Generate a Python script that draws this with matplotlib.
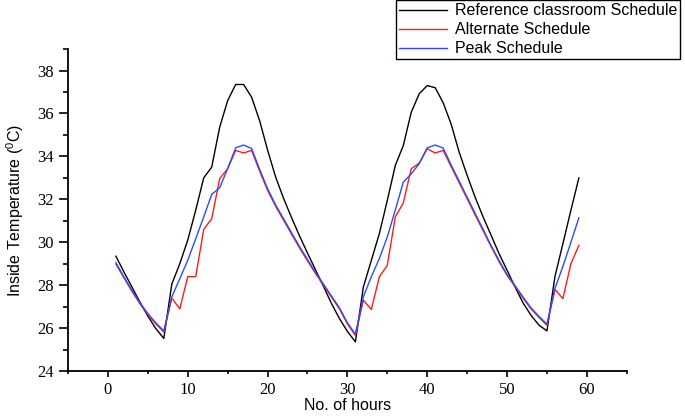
import matplotlib
matplotlib.use('Agg')
import matplotlib.pyplot as plt
from matplotlib.ticker import MultipleLocator

# hours 1..59
hours = list(range(1, 60))

# Reference classroom schedule (black)
reference = [29.35, 28.62, 27.92, 27.22, 26.56, 25.98, 25.52,
             28.05, 29.0, 30.1, 31.5, 33.0, 33.5, 35.36, 36.6, 37.35, 37.35, 36.76,
             35.67, 34.3, 33.05, 32.05, 31.15, 30.3, 29.5, 28.72, 27.95, 27.15, 26.45, 25.85, 25.36,
             27.92, 29.16, 30.4, 31.95, 33.58, 34.5, 36.06, 36.92, 37.3, 37.2, 36.5,
             35.5, 34.2, 33.12, 32.1, 31.18, 30.33, 29.47, 28.7, 27.92, 27.18, 26.6, 26.14, 25.87,
             28.4, 29.94, 31.49, 33.0]

# Alternate schedule (red)
alternate = [28.98, 28.35, 27.72, 27.14, 26.63, 26.2, 25.82,
             27.4, 26.9, 28.4, 28.4, 30.6, 31.1, 32.96, 33.43, 34.28, 34.16, 34.28,
             33.32, 32.42, 31.68, 31.03, 30.38, 29.74, 29.14, 28.55, 28.0, 27.45, 26.9, 26.2, 25.66,
             27.3, 26.87, 28.39, 28.93, 31.18, 31.83, 33.43, 33.69, 34.36, 34.16, 34.28,
             33.52, 32.78, 32.03, 31.28, 30.54, 29.8, 29.1, 28.46, 27.94, 27.4, 26.9, 26.5, 26.13,
             27.8, 27.38, 29.0, 29.86]

# Peak schedule (blue)
peak = [29.05, 28.39, 27.77, 27.18, 26.68, 26.25, 25.87,
        27.46, 28.3, 29.16, 30.17, 31.18, 32.23, 32.54, 33.43, 34.4, 34.53, 34.37,
        33.4, 32.5, 31.75, 31.1, 30.45, 29.8, 29.2, 28.6, 28.05, 27.5, 26.95, 26.25, 25.72,
        27.46, 28.4, 29.24, 30.25, 31.5, 32.8, 33.19, 33.66, 34.4, 34.53, 34.39,
        33.6, 32.85, 32.1, 31.35, 30.6, 29.85, 29.15, 28.5, 27.98, 27.45, 26.95, 26.55, 26.19,
        27.85, 28.88, 30.0, 31.14]

plt.rcParams['mathtext.fontset'] = 'custom'
plt.rcParams['mathtext.rm'] = 'Liberation Sans'
plt.rcParams['mathtext.it'] = 'Liberation Sans'

fig = plt.figure(figsize=(6.85, 4.16), dpi=100)
ax = fig.add_axes([0.0993, 0.108, 0.8157, 0.774])

ax.plot(hours, reference, color='black', linewidth=1.0, label='Reference classroom Schedule')
ax.plot(hours, alternate, color='#ff1a1a', linewidth=1.0, label='Alternate Schedule')
ax.plot(hours, peak, color='#2b4cff', linewidth=1.0, label='Peak Schedule')

ax.set_xlim(-5, 65)
ax.set_ylim(24, 39)
ax.xaxis.set_major_locator(MultipleLocator(10))
ax.xaxis.set_minor_locator(MultipleLocator(5))
ax.yaxis.set_major_locator(MultipleLocator(2))
ax.yaxis.set_minor_locator(MultipleLocator(1))

for side in ['top', 'right']:
    ax.spines[side].set_visible(False)
for side in ['left', 'bottom']:
    ax.spines[side].set_linewidth(1.3)

ax.tick_params(axis='y', which='major', direction='out', length=6.5, width=1.2)
ax.tick_params(axis='y', which='minor', direction='out', length=3.5, width=1.2)
ax.tick_params(axis='x', which='major', direction='out', length=4.5, width=1.2)
ax.tick_params(axis='x', which='minor', direction='out', length=2.5, width=1.2)
for lbl in ax.get_xticklabels() + ax.get_yticklabels():
    lbl.set_fontfamily('Liberation Serif')
    lbl.set_fontsize(12)

ax.set_xlabel('No. of hours', fontfamily='Liberation Sans', fontsize=11.5, labelpad=0)
ax.set_ylabel(r'Inside Temperature ($\mathregular{^0}$C)', fontfamily='Liberation Sans',
              fontsize=11.5, labelpad=8)

leg = fig.legend(loc='upper right', bbox_to_anchor=(0.993, 1.0), fancybox=False,
                 edgecolor='black', framealpha=1, handlelength=3.0, handletextpad=0.5,
                 labelspacing=0.25, borderpad=0.2, borderaxespad=0,
                 prop={'family': 'Liberation Sans', 'size': 11.5})
leg.get_frame().set_linewidth(1.0)

plt.savefig('out.png', dpi=100)
